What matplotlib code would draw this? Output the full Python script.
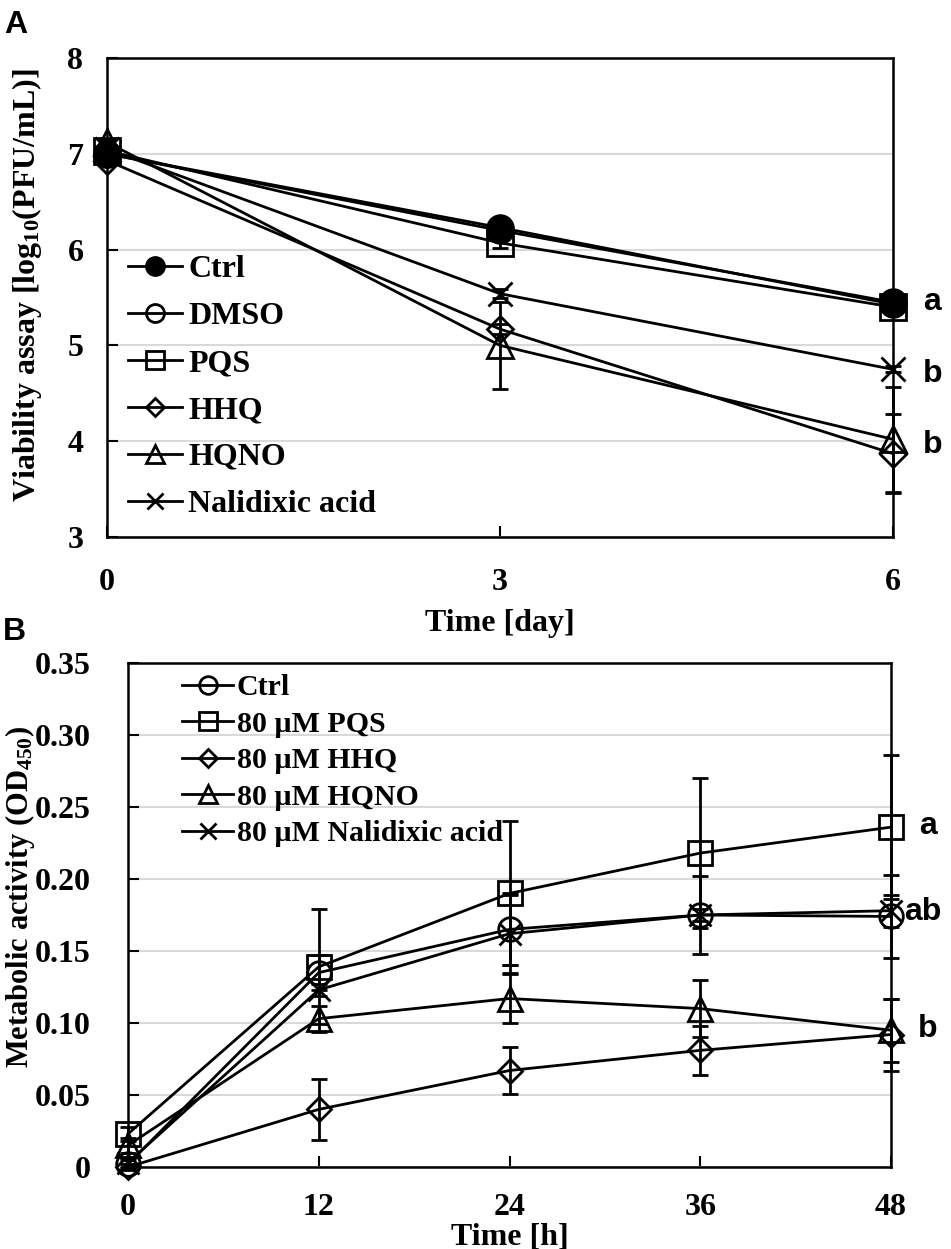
import matplotlib
matplotlib.use('Agg')
import matplotlib.pyplot as plt
import numpy as np

plt.rcParams['font.family'] = 'Liberation Serif'
plt.rcParams['font.weight'] = 'bold'
plt.rcParams['mathtext.fontset'] = 'custom'
plt.rcParams['mathtext.rm'] = 'Liberation Serif:bold'
plt.rcParams['mathtext.it'] = 'Liberation Serif:bold'
plt.rcParams['mathtext.bf'] = 'Liberation Serif:bold'
plt.rcParams['mathtext.default'] = 'rm'

# ---- Panel A: viability (log10 PFU/mL) ----
days = [0, 3, 6]
a_labels = ["Ctrl", "DMSO", "PQS", "HHQ", "HQNO", "Nalidixic acid"]
a_ctrl = [7.00, 6.23, 5.43]
a_dmso = [7.00, 6.20, 5.45]
a_pqs = [7.03, 6.07, 5.40]
a_hhq = [6.93, 5.17, 3.87]
a_hqno = [7.12, 5.00, 4.02]
a_nal = [7.05, 5.54, 4.75]
a_ctrl_sd = [0.03, 0.03, 0.03]
a_dmso_sd = [0.03, 0.03, 0.03]
a_pqs_sd = [0.03, 0.05, 0.03]
a_hhq_sd = [0.03, 0.05, 0.41]
a_hqno_sd = [0.03, 0.45, 0.55]
a_nal_sd = [0.03, 0.05, 0.03]
a_sig = ["a", "b", "b"]
a_sig_y = [5.45, 4.70, 3.96]

# ---- Panel B: metabolic activity (OD450) ----
hours = [0, 12, 24, 36, 48]
b_labels = ["Ctrl", "80 \u00b5M PQS", "80 \u00b5M HHQ", "80 \u00b5M HQNO",
            "80 \u00b5M Nalidixic acid"]
b_ctrl = [0.002, 0.135, 0.165, 0.175, 0.174]
b_pqs = [0.023, 0.139, 0.190, 0.218, 0.236]
b_hhq = [0.000, 0.040, 0.067, 0.081, 0.092]
b_hqno = [0.015, 0.103, 0.117, 0.110, 0.095]
b_nal = [0.003, 0.123, 0.162, 0.175, 0.178]
b_ctrl_sd = [0.003, 0.012, 0.025, 0.027, 0.029]
b_pqs_sd = [0.005, 0.040, 0.050, 0.052, 0.050]
b_hhq_sd = [0.002, 0.021, 0.016, 0.017, 0.025]
b_hqno_sd = [0.005, 0.009, 0.017, 0.020, 0.022]
b_nal_sd = [0.003, 0.004, 0.027, 0.004, 0.011]
b_sig = ["a", "ab", "b"]
b_sig_y = [0.237, 0.177, 0.096]

fig = plt.figure(figsize=(9.51, 12.49), dpi=100)
axA = fig.add_axes([107 / 951, 1 - 537 / 1249, 786 / 951, 479 / 1249])
axB = fig.add_axes([128 / 951, 1 - 1167 / 1249, 763 / 951, 504 / 1249])

GRID = '#d9d9d9'
TICK_FS = 23


def draw_series(ax, x, y, sd, marker, ms, mfc):
    c = ax.errorbar(x, y, yerr=sd, marker=marker, ms=ms, mfc=mfc, mec='black',
                    mew=2.0, color='black', lw=2.0, capsize=6, capthick=2.0,
                    elinewidth=2.0)
    for art in c.get_children():
        art.set_clip_on(False)
    return c[0]


def style_axes(ax):
    for sp in ax.spines.values():
        sp.set_linewidth(1.8)
        sp.set_color('black')
    ax.yaxis.grid(True, color=GRID, lw=1.5)
    ax.set_axisbelow(True)
    ax.tick_params(direction='in', length=8, width=1.5, labelsize=TICK_FS)
    ax.tick_params(axis='y', right=False)
    ax.tick_params(axis='x', top=False)


# Panel A
style_axes(axA)
hA = []
hA.append(draw_series(axA, days, a_pqs, a_pqs_sd, 's', 18.5, 'none'))
hA.append(draw_series(axA, days, a_dmso, a_dmso_sd, 'o', 18.5, 'none'))
hA.append(draw_series(axA, days, a_hhq, a_hhq_sd, 'D', 13.3, 'none'))
hA.append(draw_series(axA, days, a_hqno, a_hqno_sd, '^', 18.5, 'none'))
hA.append(draw_series(axA, days, a_nal, a_nal_sd, 'x', 17, 'none'))
hA.append(draw_series(axA, days, a_ctrl, a_ctrl_sd, 'o', 18.5, 'black'))
order = [5, 1, 0, 2, 3, 4]
axA.set_xlim(0, 6)
axA.set_ylim(3, 8)
axA.set_xticks(days)
axA.set_yticks([3, 4, 5, 6, 7, 8])
axA.tick_params(axis='y', pad=17)
axA.tick_params(axis='x', pad=22)
axA.set_xlabel("Time [day]", fontsize=23, fontweight='bold', labelpad=9)
axA.set_ylabel("Viability assay [log$_{10}$(PFU/mL)]", fontsize=23,
               fontweight='bold', va='center')
axA.yaxis.set_label_coords(-0.102, 0.526)
axA.legend([hA[i] for i in order], a_labels, loc='upper left',
           bbox_to_anchor=(0.027, 0.589), frameon=False, fontsize=23,
           handlelength=1.69, handletextpad=0.19, labelspacing=0.55,
           borderpad=0, borderaxespad=0, markerscale=0.7)
for s, yy in zip(a_sig, a_sig_y):
    axA.text(6.30, yy, s, fontsize=23, fontweight='bold',
             family='Liberation Sans', ha='center', va='center', clip_on=False)

# Panel B
style_axes(axB)
hB = []
hB.append(draw_series(axB, hours, b_ctrl, b_ctrl_sd, 'o', 17, 'none'))
hB.append(draw_series(axB, hours, b_pqs, b_pqs_sd, 's', 17, 'none'))
hB.append(draw_series(axB, hours, b_hhq, b_hhq_sd, 'D', 12.3, 'none'))
hB.append(draw_series(axB, hours, b_hqno, b_hqno_sd, '^', 17, 'none'))
hB.append(draw_series(axB, hours, b_nal, b_nal_sd, 'x', 16, 'none'))
axB.set_xlim(0, 48)
axB.set_ylim(0, 0.35)
axB.set_xticks(hours)
yt = [0, 0.05, 0.10, 0.15, 0.20, 0.25, 0.30, 0.35]
axB.set_yticks(yt)
axB.set_yticklabels(["0"] + [f"{v:.2f}" for v in yt[1:]])
axB.tick_params(axis='y', pad=27)
axB.tick_params(axis='x', pad=19)
axB.set_xlabel("Time [h]", fontsize=23, fontweight='bold', labelpad=0)
axB.set_ylabel("Metabolic activity (OD$_{450}$)", fontsize=22,
               fontweight='bold', va='center')
axB.yaxis.set_label_coords(-0.1415, 0.536)
axB.legend(hB, b_labels, loc='upper left', bbox_to_anchor=(0.071, 0.978),
           frameon=False, fontsize=21.5, handlelength=1.7, handletextpad=0.13,
           labelspacing=0.32, borderpad=0, borderaxespad=0, markerscale=0.75)
for s, yy in zip(b_sig, b_sig_y):
    xx = 50.0 if s == "ab" else 50.3
    axB.text(xx, yy, s, fontsize=23, fontweight='bold',
             family='Liberation Sans', ha='center', va='center', clip_on=False)

fig.text(0.004, 1 - 33 / 1249, "A", fontsize=23, fontweight='bold',
         family='Liberation Sans', va='baseline')
fig.text(0.003, 1 - 640 / 1249, "B", fontsize=23, fontweight='bold',
         family='Liberation Sans', va='baseline')

fig.savefig("out.png", dpi=100)
